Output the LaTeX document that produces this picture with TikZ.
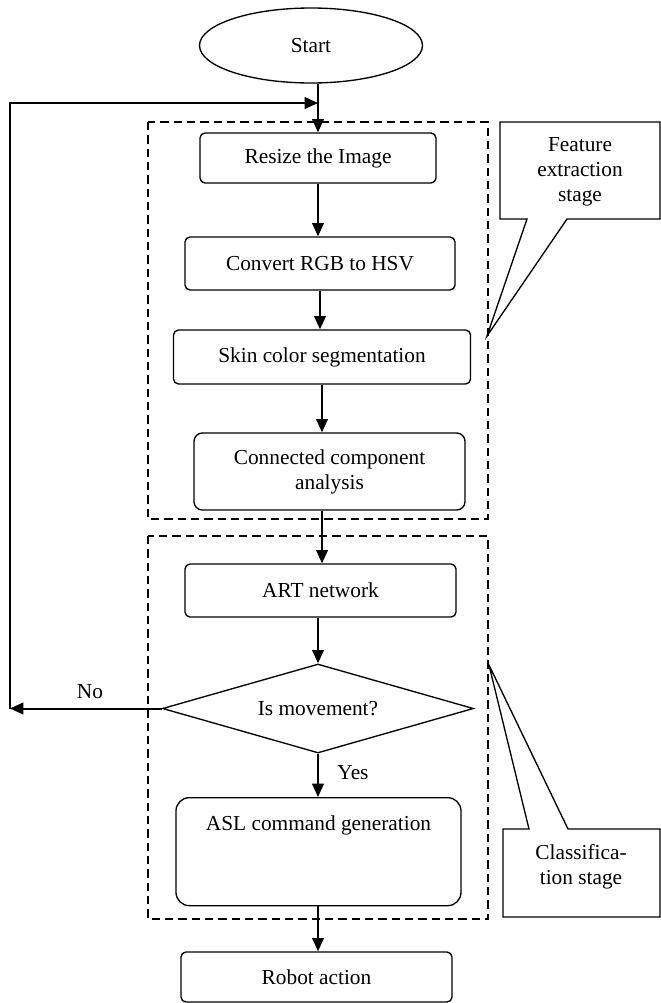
\documentclass[tikz,border=0pt]{standalone}
\usepackage{fontspec}
\setmainfont{Liberation Serif}
\usetikzlibrary{shapes.geometric,arrows.meta}
\tikzset{
	every node/.style={font=\fontsize{12.8}{15}\selectfont},
	startnode/.style={draw,ellipse,line width=0.8pt,minimum width=133.8pt,minimum height=45pt,inner sep=0pt},
	proc/.style={draw,rectangle,rounded corners=3pt,line width=0.8pt,inner sep=0pt,align=center},
	decide/.style={draw,diamond,aspect=3.5,line width=0.8pt,minimum width=186.6pt,minimum height=53.4pt,inner sep=0pt},
	stagebox/.style={draw,dash pattern=on 5pt off 3pt,line width=0.8pt},
	note/.style={draw,line width=0.8pt,line join=miter},
	arr/.style={line width=1.2pt,-{Triangle[length=8pt,width=7pt]}},
}

\begin{document}
\begin{tikzpicture}[x=0.6pt,y=-0.6pt]
\useasboundingbox (0,0) rectangle (661,1003);
% the two stages
\draw[stagebox] (148,122) rectangle (488,519);
\draw[stagebox] (148,536) rectangle (488,919);
% flow
\node[startnode] (start) at (311,45.5) {Start};
\node[proc,minimum width=141.6pt,minimum height=30pt] (resize) at (318,158) {Resize the Image};
\node[proc,minimum width=162pt,minimum height=31.8pt] (convert) at (320,263.5) {Convert RGB to HSV};
\node[proc,minimum width=178.2pt,minimum height=32.4pt] (skin) at (322,357) {Skin color segmentation};
\node[proc,rounded corners=5pt,minimum width=162.6pt,minimum height=46.2pt] (conn) at (329.5,471.5) {Connected component\\analysis};
\node[proc,minimum width=162.6pt,minimum height=31.8pt] (art) at (320.5,590.5) {ART network};
\node[decide] (dec) at (318,708.5) {Is movement?};
\node[proc,rounded corners=8pt,minimum width=171pt,text height=19.8pt,text depth=45pt,anchor=north] (asl) at (318.5,797) {ASL command generation};
\node[proc,minimum width=162.6pt,minimum height=30pt] (robot) at (316.5,977) {Robot action};
\coordinate (back) at (10,708.5);
\coordinate (join) at (318,103);

\draw[arr] (start.south -| resize.north) -- (resize.north);
\draw[arr] (resize.south) -- (resize.south |- convert.north);
\draw[arr] (convert.south) -- (convert.south |- skin.north);
\draw[arr] (skin.south) -- (skin.south |- conn.north);
\draw[arr] (conn.south -| skin.south) -- (art.north -| skin.south);
\draw[arr] (art.south -| dec.north) -- (dec.north);
\draw[arr] (dec.south) -- (dec.south |- asl.north);
\draw[arr] (asl.south -| dec.south) -- (robot.north -| dec.south);
\draw[arr] (dec.west) -- (back);
\draw[arr] (back) -- (back |- join) -- (join);
\node (nolabel) at (90,692) {No};
\node (yeslabel) at (353,773) {Yes};

% callouts
\draw[note] (500,122) -- (660,122) -- (660,219) -- (567,219) -- (487,336) -- (527,219) -- (500,219) -- cycle;
\node[align=center] (featlabel) at (580,172) {Feature\\extraction\\stage};
\draw[note] (503,829) -- (529,829) -- (489,665) -- (568,829) -- (660,829) -- (660,917) -- (503,917) -- cycle;
\node[align=center] (classlabel) at (581,867) {Classifica-\\tion stage};
\end{tikzpicture}
\end{document}
